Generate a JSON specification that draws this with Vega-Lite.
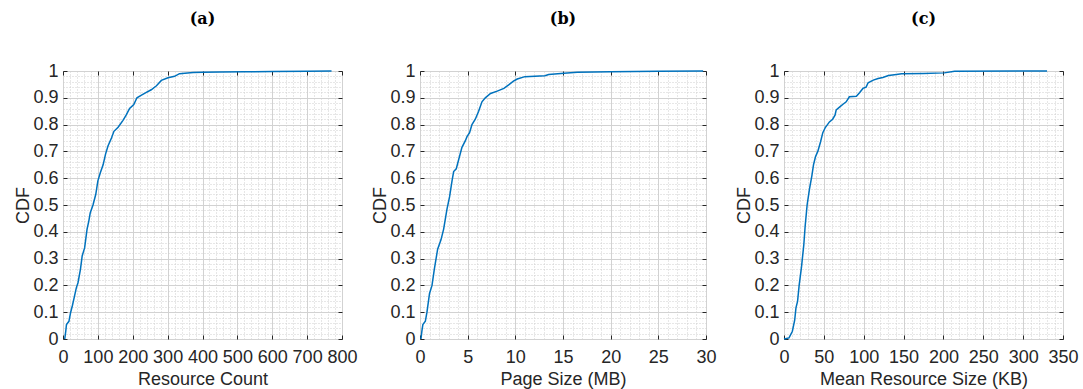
{
  "$schema": "https://vega.github.io/schema/vega-lite/v6.json",
  "background": "white",
  "padding": {"left": 14, "top": 10, "right": 5, "bottom": 5},
  "spacing": 78,
  "bounds": "flush",
  "datasets": {
    "resourceCount": [
      {"x": 5, "y": 0}, {"x": 8, "y": 0.03}, {"x": 10, "y": 0.054}, {"x": 17, "y": 0.066}, {"x": 22, "y": 0.1},
      {"x": 27, "y": 0.125}, {"x": 33, "y": 0.16}, {"x": 38, "y": 0.19}, {"x": 43, "y": 0.21}, {"x": 50, "y": 0.26},
      {"x": 55, "y": 0.31}, {"x": 62, "y": 0.34}, {"x": 69, "y": 0.41}, {"x": 74, "y": 0.44}, {"x": 78, "y": 0.47},
      {"x": 86, "y": 0.5}, {"x": 94, "y": 0.54}, {"x": 100, "y": 0.59}, {"x": 107, "y": 0.62}, {"x": 115, "y": 0.65},
      {"x": 122, "y": 0.69}, {"x": 129, "y": 0.72}, {"x": 139, "y": 0.75}, {"x": 146, "y": 0.775}, {"x": 158, "y": 0.79},
      {"x": 172, "y": 0.816}, {"x": 181, "y": 0.835}, {"x": 191, "y": 0.86}, {"x": 203, "y": 0.875}, {"x": 212, "y": 0.9},
      {"x": 225, "y": 0.91}, {"x": 239, "y": 0.92}, {"x": 253, "y": 0.93}, {"x": 268, "y": 0.945}, {"x": 282, "y": 0.965},
      {"x": 301, "y": 0.975}, {"x": 320, "y": 0.98}, {"x": 334, "y": 0.99}, {"x": 373, "y": 0.994}, {"x": 401, "y": 0.995},
      {"x": 450, "y": 0.996}, {"x": 520, "y": 0.997}, {"x": 600, "y": 0.998}, {"x": 700, "y": 0.999}, {"x": 770, "y": 1}
    ],
    "pageSize": [
      {"x": 0.1, "y": 0}, {"x": 0.2, "y": 0.03}, {"x": 0.3, "y": 0.054}, {"x": 0.56, "y": 0.066}, {"x": 0.73, "y": 0.1},
      {"x": 1.0, "y": 0.17}, {"x": 1.26, "y": 0.2}, {"x": 1.5, "y": 0.26}, {"x": 1.85, "y": 0.335}, {"x": 2.2, "y": 0.37},
      {"x": 2.48, "y": 0.41}, {"x": 2.83, "y": 0.485}, {"x": 3.1, "y": 0.53}, {"x": 3.36, "y": 0.59}, {"x": 3.53, "y": 0.625},
      {"x": 3.8, "y": 0.635}, {"x": 4.06, "y": 0.67}, {"x": 4.4, "y": 0.715}, {"x": 4.76, "y": 0.74}, {"x": 4.93, "y": 0.755},
      {"x": 5.2, "y": 0.77}, {"x": 5.45, "y": 0.8}, {"x": 5.8, "y": 0.82}, {"x": 6.15, "y": 0.85}, {"x": 6.5, "y": 0.885},
      {"x": 6.85, "y": 0.9}, {"x": 7.4, "y": 0.916}, {"x": 8.1, "y": 0.925}, {"x": 8.8, "y": 0.935}, {"x": 9.3, "y": 0.948},
      {"x": 9.8, "y": 0.962}, {"x": 10.2, "y": 0.97}, {"x": 11.0, "y": 0.979}, {"x": 13.1, "y": 0.982}, {"x": 13.5, "y": 0.987},
      {"x": 15.1, "y": 0.992}, {"x": 16.5, "y": 0.995}, {"x": 20, "y": 0.997}, {"x": 25, "y": 0.999}, {"x": 29.7, "y": 1}
    ],
    "meanResourceSize": [
      {"x": 0, "y": 0}, {"x": 6.3, "y": 0.004}, {"x": 10.5, "y": 0.029}, {"x": 13.4, "y": 0.07}, {"x": 15, "y": 0.116},
      {"x": 17, "y": 0.14}, {"x": 19, "y": 0.2}, {"x": 22, "y": 0.27}, {"x": 24.8, "y": 0.35}, {"x": 26.5, "y": 0.42},
      {"x": 29, "y": 0.5}, {"x": 32, "y": 0.56}, {"x": 35, "y": 0.61}, {"x": 37, "y": 0.65}, {"x": 39.5, "y": 0.68},
      {"x": 42.4, "y": 0.7}, {"x": 45.8, "y": 0.735}, {"x": 48.7, "y": 0.77}, {"x": 52, "y": 0.79}, {"x": 57, "y": 0.81},
      {"x": 61, "y": 0.82}, {"x": 64, "y": 0.835}, {"x": 65.5, "y": 0.855}, {"x": 70, "y": 0.866}, {"x": 74, "y": 0.876},
      {"x": 78, "y": 0.885}, {"x": 82, "y": 0.904}, {"x": 90.8, "y": 0.906}, {"x": 95, "y": 0.92}, {"x": 99, "y": 0.935},
      {"x": 103, "y": 0.94}, {"x": 105.5, "y": 0.956}, {"x": 112, "y": 0.966}, {"x": 118, "y": 0.972}, {"x": 124, "y": 0.976},
      {"x": 131, "y": 0.983}, {"x": 141, "y": 0.987}, {"x": 147.5, "y": 0.99}, {"x": 175, "y": 0.991}, {"x": 201, "y": 0.993},
      {"x": 214, "y": 0.999}, {"x": 330, "y": 1}
    ]
  },
  "hconcat": [
    {
      "title": "(a)",
      "width": 279,
      "height": 268,
      "data": {"name": "resourceCount"},
      "layer": [
        {
          "mark": {"type": "line", "opacity": 0},
          "encoding": {
            "x": {"field": "x", "type": "quantitative", "scale": {"domain": [0, 800], "nice": false},
              "axis": {"orient": "bottom", "tickCount": 40, "grid": true, "gridDash": [1, 2], "gridColor": "#cfcfcf", "ticks": false, "labels": false, "title": null}},
            "y": {"field": "y", "type": "quantitative", "scale": {"domain": [0, 1], "nice": false},
              "axis": {"orient": "left", "tickCount": 50, "grid": true, "gridDash": [1, 2], "gridColor": "#cfcfcf", "ticks": false, "labels": false, "title": null}}
          }
        },
        {
          "mark": {"type": "line", "opacity": 0},
          "encoding": {
            "x": {"field": "x", "type": "quantitative",
              "axis": {"orient": "top", "values": [0, 100, 200, 300, 400, 500, 600, 700, 800], "grid": false, "tickSize": -4, "labels": false, "title": null}},
            "y": {"field": "y", "type": "quantitative",
              "axis": {"orient": "right", "values": [0, 0.1, 0.2, 0.3, 0.4, 0.5, 0.6, 0.7, 0.8, 0.9, 1], "grid": false, "tickSize": -4, "labels": false, "title": null}}
          }
        },
        {
          "mark": {"type": "line", "color": "#0072BD", "strokeWidth": 1.5, "interpolate": "linear"},
          "encoding": {
            "x": {"field": "x", "type": "quantitative",
              "axis": {"orient": "bottom", "values": [0, 100, 200, 300, 400, 500, 600, 700, 800], "grid": true, "gridColor": "#d2d2d2", "tickSize": -4, "labelPadding": 13, "titlePadding": 4, "title": "Resource Count"}},
            "y": {"field": "y", "type": "quantitative",
              "axis": {"orient": "left", "values": [0, 0.1, 0.2, 0.3, 0.4, 0.5, 0.6, 0.7, 0.8, 0.9, 1], "format": "~g", "grid": true, "gridColor": "#d2d2d2", "tickSize": -4, "labelPadding": 9, "titlePadding": 0, "title": "CDF"}}
          }
        }
      ],
      "resolve": {"axis": {"x": "independent", "y": "independent"}}
    },
    {
      "title": "(b)",
      "width": 286,
      "height": 268,
      "data": {"name": "pageSize"},
      "layer": [
        {
          "mark": {"type": "line", "opacity": 0},
          "encoding": {
            "x": {"field": "x", "type": "quantitative", "scale": {"domain": [0, 30], "nice": false},
              "axis": {"orient": "bottom", "tickCount": 30, "grid": true, "gridDash": [1, 2], "gridColor": "#cfcfcf", "ticks": false, "labels": false, "title": null}},
            "y": {"field": "y", "type": "quantitative", "scale": {"domain": [0, 1], "nice": false},
              "axis": {"orient": "left", "tickCount": 50, "grid": true, "gridDash": [1, 2], "gridColor": "#cfcfcf", "ticks": false, "labels": false, "title": null}}
          }
        },
        {
          "mark": {"type": "line", "opacity": 0},
          "encoding": {
            "x": {"field": "x", "type": "quantitative",
              "axis": {"orient": "top", "values": [0, 5, 10, 15, 20, 25, 30], "grid": false, "tickSize": -4, "labels": false, "title": null}},
            "y": {"field": "y", "type": "quantitative",
              "axis": {"orient": "right", "values": [0, 0.1, 0.2, 0.3, 0.4, 0.5, 0.6, 0.7, 0.8, 0.9, 1], "grid": false, "tickSize": -4, "labels": false, "title": null}}
          }
        },
        {
          "mark": {"type": "line", "color": "#0072BD", "strokeWidth": 1.5, "interpolate": "linear"},
          "encoding": {
            "x": {"field": "x", "type": "quantitative",
              "axis": {"orient": "bottom", "values": [0, 5, 10, 15, 20, 25, 30], "grid": true, "gridColor": "#d2d2d2", "tickSize": -4, "labelPadding": 13, "titlePadding": 4, "title": "Page Size (MB)"}},
            "y": {"field": "y", "type": "quantitative",
              "axis": {"orient": "left", "values": [0, 0.1, 0.2, 0.3, 0.4, 0.5, 0.6, 0.7, 0.8, 0.9, 1], "format": "~g", "grid": true, "gridColor": "#d2d2d2", "tickSize": -4, "labelPadding": 9, "titlePadding": 0, "title": "CDF"}}
          }
        }
      ],
      "resolve": {"axis": {"x": "independent", "y": "independent"}}
    },
    {
      "title": "(c)",
      "width": 279,
      "height": 268,
      "data": {"name": "meanResourceSize"},
      "layer": [
        {
          "mark": {"type": "line", "opacity": 0},
          "encoding": {
            "x": {"field": "x", "type": "quantitative", "scale": {"domain": [0, 350], "nice": false},
              "axis": {"orient": "bottom", "tickCount": 35, "grid": true, "gridDash": [1, 2], "gridColor": "#cfcfcf", "ticks": false, "labels": false, "title": null}},
            "y": {"field": "y", "type": "quantitative", "scale": {"domain": [0, 1], "nice": false},
              "axis": {"orient": "left", "tickCount": 50, "grid": true, "gridDash": [1, 2], "gridColor": "#cfcfcf", "ticks": false, "labels": false, "title": null}}
          }
        },
        {
          "mark": {"type": "line", "opacity": 0},
          "encoding": {
            "x": {"field": "x", "type": "quantitative",
              "axis": {"orient": "top", "values": [0, 50, 100, 150, 200, 250, 300, 350], "grid": false, "tickSize": -4, "labels": false, "title": null}},
            "y": {"field": "y", "type": "quantitative",
              "axis": {"orient": "right", "values": [0, 0.1, 0.2, 0.3, 0.4, 0.5, 0.6, 0.7, 0.8, 0.9, 1], "grid": false, "tickSize": -4, "labels": false, "title": null}}
          }
        },
        {
          "mark": {"type": "line", "color": "#0072BD", "strokeWidth": 1.5, "interpolate": "linear"},
          "encoding": {
            "x": {"field": "x", "type": "quantitative",
              "axis": {"orient": "bottom", "values": [0, 50, 100, 150, 200, 250, 300, 350], "grid": true, "gridColor": "#d2d2d2", "tickSize": -4, "labelPadding": 13, "titlePadding": 4, "title": "Mean Resource Size (KB)"}},
            "y": {"field": "y", "type": "quantitative",
              "axis": {"orient": "left", "values": [0, 0.1, 0.2, 0.3, 0.4, 0.5, 0.6, 0.7, 0.8, 0.9, 1], "format": "~g", "grid": true, "gridColor": "#d2d2d2", "tickSize": -4, "labelPadding": 9, "titlePadding": 0, "title": "CDF"}}
          }
        }
      ],
      "resolve": {"axis": {"x": "independent", "y": "independent"}}
    }
  ],
  "config": {
    "view": {"stroke": "#262626", "strokeWidth": 1},
    "axis": {
      "domain": false,
      "labelFont": "Liberation Sans",
      "titleFont": "Liberation Sans",
      "labelFontSize": 18,
      "titleFontSize": 18,
      "titleFontWeight": "normal",
      "labelColor": "#262626",
      "titleColor": "#262626",
      "tickColor": "#262626",
      "labelFlush": false,
      "labelOverlap": false
    },
    "title": {
      "font": "DejaVu Serif",
      "fontSize": 16,
      "fontWeight": "bold",
      "color": "#000000",
      "frame": "group",
      "anchor": "middle",
      "offset": 35
    }
  }
}
